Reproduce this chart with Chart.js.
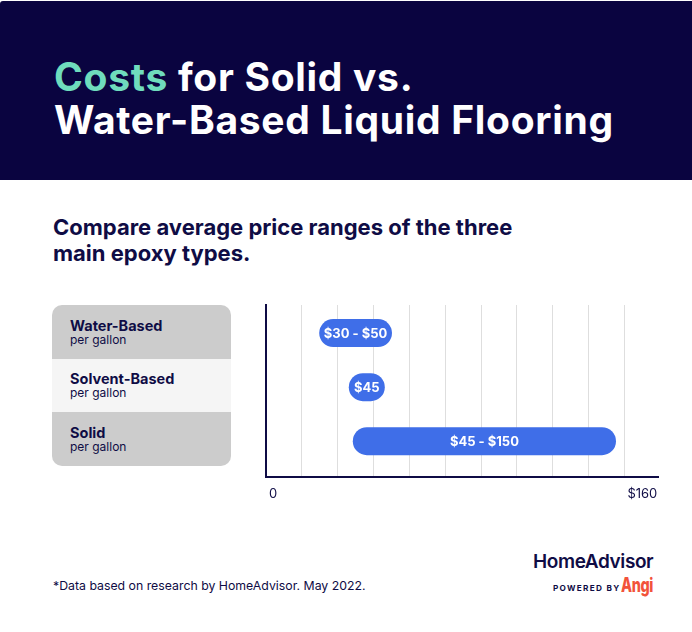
<!DOCTYPE html>
<html>
<head>
<meta charset="utf-8">
<script src="https://cdn.jsdelivr.net/npm/chart.js@4"></script>
<style>
  html, body { margin: 0; padding: 0; background: #fff; }
  body { width: 692px; height: 632px; position: relative; overflow: hidden; font-family: Inter, "Noto Sans", sans-serif; color: #0f0c45; }
  .header { position: absolute; left: 0; top: 1px; width: 692px; height: 179px; background: #0a0440; border-top-left-radius: 3px; }
  .title { position: absolute; left: 54px; top: 55px; margin: 0; font-size: 39px; line-height: 43px; font-weight: 700; color: #fff; letter-spacing: 0.7px; }
  .title span { color: #6fdcbd; }
  .subtitle { position: absolute; left: 53px; top: 214px; margin: 0; font-size: 22px; line-height: 26px; font-weight: 700; color: #0f0c45; }
  .table { position: absolute; left: 52px; top: 305px; width: 179px; height: 161px; border-radius: 10px; overflow: hidden; }
  .row { height: 53.6px; display: flex; flex-direction: column; justify-content: center; padding-left: 18px; box-sizing: border-box; }
  .row .name { font-size: 14.5px; font-weight: 700; line-height: 15px; }
  .row .unit { font-size: 12px; line-height: 13px; }
  #wrap { position: absolute; left: 256px; top: 295px; width: 420px; height: 220px; }
  .note { position: absolute; left: 53px; top: 578px; font-size: 12.3px; color: #0f0c45; }
  .brand { position: absolute; left: 533px; top: 550px; font-size: 19px; font-weight: 600; letter-spacing: -0.4px; color: #0f0c45; }
  .powered { position: absolute; left: 553px; top: 583px; font-size: 8.2px; font-weight: 700; letter-spacing: 1.3px; color: #0f0c45; }
  .angi { position: absolute; left: 621px; top: 573px; font-size: 20px; font-weight: 800; color: #f2533a; transform: scaleX(0.72); transform-origin: left; letter-spacing: -0.5px; }
</style>
</head>
<body>
<div class="header"></div>
<h1 class="title"><span>Costs</span> for Solid vs.<br>Water-Based Liquid Flooring</h1>
<p class="subtitle">Compare average price ranges of the three<br>main epoxy types.</p>
<div class="table" id="table"></div>
<div id="wrap"><canvas id="chart"></canvas></div>
<div class="note">*Data based on research by HomeAdvisor. May 2022.</div>
<div class="brand">HomeAdvisor</div>
<div class="powered">POWERED BY</div>
<div class="angi">Angi</div>
<script>
// data
const categories = ['Water-Based', 'Solvent-Based', 'Solid'];
const units = ['per gallon', 'per gallon', 'per gallon'];
const priceLow = [30, 45, 45];
const priceHigh = [50, 45, 150];
const barLabels = ['$30 - $50', '$45', '$45 - $150'];
const tickValues = [0, 160];
const tickLabels = ['0', '$160'];
const gridValues = [0, 16, 32, 48, 64, 80, 96, 112, 128, 144, 160];

const NAVY = '#0f0c45';
const BLUE = '#3f6ee8';
const rowColors = ['#cccccc', '#f5f5f5', '#cccccc'];
// row index range of the y axis (rows sit 0..2, with extra room below for the axis)
const Y_MIN = -0.52;
const Y_MAX = 2.67;

// left side table
const table = document.getElementById('table');
categories.forEach((c, i) => {
    const row = document.createElement('div');
    row.className = 'row';
    row.style.background = rowColors[i];
    row.innerHTML = '<div class="name">' + c + '</div><div class="unit">' + units[i] + '</div>';
    table.appendChild(row);
});

// pill shaped bars with the price text inside
const pillBars = {
    id: 'pillBars',
    afterDatasetsDraw(chart) {
        const ctx = chart.ctx;
        const meta = chart.getDatasetMeta(0);
        meta.data.forEach((bar, i) => {
            const { x, base, y, height } = bar.getProps(['x', 'base', 'y', 'height'], true);
            let left = Math.min(x, base) - 14;
            let right = Math.max(x, base) + 14;
            if (right - left < 36) {
                const c = (x + base) / 2;
                left = c - 18;
                right = c + 18;
            }
            ctx.save();
            ctx.fillStyle = BLUE;
            ctx.beginPath();
            ctx.roundRect(left, y - height / 2, right - left, height, height / 2);
            ctx.fill();
            ctx.fillStyle = '#fff';
            ctx.font = '700 13px Inter, sans-serif';
            ctx.textAlign = 'center';
            ctx.textBaseline = 'middle';
            ctx.fillText(barLabels[i], (left + right) / 2, y + 1);
            ctx.restore();
        });
    }
};

new Chart(document.getElementById('chart'), {
    type: 'bar',
    data: {
        datasets: [{
            data: categories.map((c, i) => ({ x: [priceLow[i], priceHigh[i]], y: i })),
            backgroundColor: 'rgba(0,0,0,0)',
            barThickness: 28
        }]
    },
    options: {
        indexAxis: 'y',
        responsive: true,
        maintainAspectRatio: false,
        animation: false,
        layout: { padding: { left: 2, top: 10, right: 18, bottom: 4 } },
        plugins: { legend: { display: false }, tooltip: { enabled: false } },
        scales: {
            x: {
                type: 'linear',
                min: 0,
                max: 175,
                afterBuildTicks: (axis) => { axis.ticks = gridValues.map(v => ({ value: v })); },
                grid: {
                    color: (c) => (c.tick && c.tick.value === 0 ? 'rgba(0,0,0,0)' : '#dedede'),
                    lineWidth: 1,
                    drawTicks: false
                },
                border: { color: NAVY, width: 2 },
                ticks: {
                    autoSkip: false,
                    maxRotation: 0,
                    align: 'start',
                    labelOffset: 3,
                    padding: 9,
                    color: NAVY,
                    font: { family: 'Inter', size: 13 },
                    callback: (v) => {
                        const k = tickValues.indexOf(v);
                        return k >= 0 ? tickLabels[k] : '';
                    }
                }
            },
            y: {
                type: 'linear',
                reverse: true,
                offset: false,
                min: Y_MIN,
                max: Y_MAX,
                afterBuildTicks: (axis) => { axis.ticks = [{ value: Y_MIN }, { value: Y_MAX }]; },
                grid: { display: false, offset: false },
                border: { color: NAVY, width: 2 },
                ticks: { display: false }
            }
        }
    },
    plugins: [pillBars]
});
</script>
</body>
</html>
